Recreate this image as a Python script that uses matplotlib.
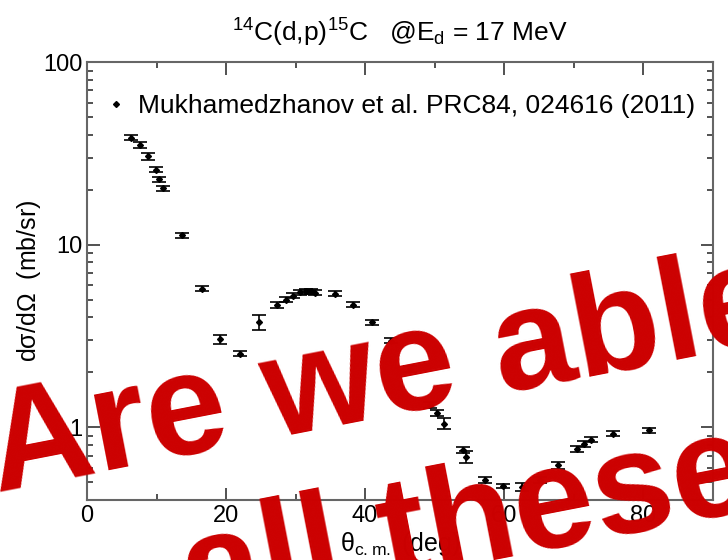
import numpy as np
import matplotlib.pyplot as plt
from matplotlib.ticker import LogLocator, MultipleLocator, NullFormatter

plt.rcParams['font.family'] = ['Liberation Sans', 'DejaVu Sans']

# Data: 14C(d,p)15C at Ed = 17 MeV
theta = [6.4, 7.6, 8.8, 9.9, 10.4, 11.0, 13.7, 16.5, 19.2, 22.0, 24.7, 27.4,
         28.6, 29.6, 30.7, 31.5, 32.2, 32.8, 35.6, 38.3, 41.0, 43.7, 46.5,
         49.4, 50.3, 51.3, 54.1, 54.5, 57.3, 59.9, 62.5, 65.2, 67.8, 70.5,
         71.5, 72.5, 75.7, 80.9]
xsec = [38.6, 35.2, 30.5, 25.8, 22.9, 20.4, 11.3, 5.75, 3.03, 2.53, 3.76, 4.70,
        5.00, 5.27, 5.49, 5.56, 5.56, 5.47, 5.38, 4.70, 3.76, 2.99, 2.09,
        1.33, 1.20, 1.05, 0.755, 0.69, 0.518, 0.478, 0.472, 0.518, 0.62, 0.765,
        0.814, 0.857, 0.924, 0.963]
xsec_err = [1.3, 1.2, 1.2, 0.9, 0.7, 0.6, 0.35, 0.18, 0.16, 0.08, 0.34, 0.17,
            0.16, 0.17, 0.17, 0.17, 0.17, 0.17, 0.17, 0.15, 0.12, 0.09, 0.08,
            0.05, 0.04, 0.07, 0.03, 0.055, 0.02, 0.015, 0.025, 0.02, 0.025, 0.03,
            0.03, 0.03, 0.03, 0.03]

legend_label = 'Mukhamedzhanov et al. PRC84, 024616 (2011)'

fig = plt.figure(figsize=(7.28, 5.6), dpi=100)
ax = fig.add_axes([0.1195, 0.107, 0.8595, 0.782])

ax.errorbar(theta, xsec, yerr=xsec_err, fmt='none', ecolor='black',
            elinewidth=1.2, capsize=4.8, capthick=1.2)
ax.plot(theta, xsec, 'D', color='black', markersize=3, label=legend_label)

ax.set_yscale('log')
ax.set_xlim(0, 90)
ax.set_ylim(0.4, 100)
ax.xaxis.set_major_locator(MultipleLocator(20))
ax.xaxis.set_minor_locator(MultipleLocator(10))
ax.yaxis.set_minor_locator(LogLocator(subs=np.arange(2, 10)))
ax.yaxis.set_minor_formatter(NullFormatter())
ax.set_yticks([1, 10, 100])
ax.set_yticklabels(['1', '10', '100'])

for s in ax.spines.values():
    s.set_color('#666666')
    s.set_linewidth(1.5)
ax.tick_params(which='both', direction='in', top=True, right=True,
               color='#333333', labelsize=17, width=1.2)
ax.tick_params(which='major', length=9)
ax.tick_params(which='minor', length=4.5)

ax.set_xlabel(r'$\mathregular{\theta_{c.m.}}$ (deg)', fontsize=18, labelpad=2)
ax.set_ylabel(r'd$\mathregular{\sigma}$/d$\mathregular{\Omega}$  (mb/sr)', fontsize=18, labelpad=0)
ax.set_title(r'$\mathregular{^{14}}$C(d,p)$\mathregular{^{15}}$C   @E$\mathregular{_d}$ = 17 MeV',
             fontsize=19, pad=15)

ax.legend(loc='upper left', frameon=False, fontsize=19, handlelength=0.8,
          handletextpad=0.45, borderaxespad=0.3, bbox_to_anchor=(0.0, 0.97))

# watermark
fig.text(-0.005, 0.122, 'Are we able to fit', color='#cc0000', fontsize=104,
         fontweight='bold', rotation=11, rotation_mode='anchor',
         ha='left', va='baseline')
fig.text(0.262, -0.105, 'all these data?', color='#cc0000', fontsize=104,
         fontweight='bold', rotation=11, rotation_mode='anchor',
         ha='left', va='baseline')

fig.savefig('out.png', dpi=100)
